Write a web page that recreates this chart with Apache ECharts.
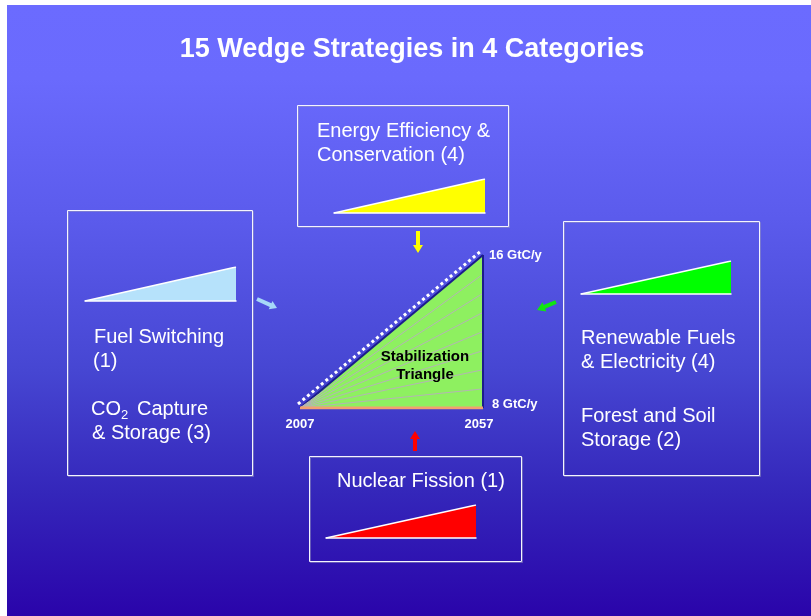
<!DOCTYPE html>
<html>
<head>
<meta charset="utf-8">
<title>15 Wedge Strategies in 4 Categories</title>
<script src="https://cdn.jsdelivr.net/npm/echarts@6/dist/echarts.min.js"></script>
<style>
  html, body { margin: 0; padding: 0; background: #ffffff; }
  #wrap { position: relative; width: 811px; height: 616px; overflow: hidden; }
  #slide {
    position: absolute; left: 7px; top: 5px; width: 804px; height: 611px;
    background: linear-gradient(to bottom, #6b6bff 0%, #6a6afd 12%, #5b5bec 35%, #4646d2 60%, #3426ba 80%, #2a04aa 100%);
  }
  #chart { position: absolute; left: 0; top: 0; width: 811px; height: 616px; }
</style>
</head>
<body>
<div id="wrap">
  <div id="slide"></div>
  <div id="chart"></div>
</div>
<script>
// Stabilization triangle: emissions held flat vs. the ramp-up path
const years = [2007, 2057];
const flatPath = [8, 8];
const rampPath = [8, 16];
// intermediate wedge boundaries at the 2057 end (GtC/y)
const wedgeTops = [9, 10, 11, 12, 13, 14, 15];
const emissionTicks = [8, 16];
// a single wedge grows from 0 to 1 GtC/y over the period
const wedgeRise = [0, 1];

// strategy categories
const categoryNames = ['Energy Efficiency & Conservation', 'Fuel Switching / CO2 Capture & Storage', 'Renewable Fuels & Electricity / Forest and Soil Storage', 'Nuclear Fission'];
const categoryCounts = [4, 4, 6, 1];
const wedgeColors = ['#ffff00', '#b6e2fb', '#00ff00', '#ff0000'];

const FONT = "'Liberation Sans', Arial, Helvetica, sans-serif";
const chart = echarts.init(document.getElementById('chart'), null, { renderer: 'canvas' });

// small wedge icon placement, one per category box
const wedgeBoxes = [
  { left: 334, top: 179, width: 151, height: 34 },
  { left: 85,  top: 267, width: 151, height: 34 },
  { left: 581, top: 261, width: 150, height: 33 },
  { left: 326, top: 505, width: 150, height: 33 }
];

const grids = [], xAxes = [], yAxes = [], series = [];

wedgeBoxes.forEach(function (b, i) {
  grids.push(Object.assign({ containLabel: false }, b));
  xAxes.push({
    type: 'value', gridIndex: i, min: years[0], max: years[1], z: 5,
    axisLine: { show: true, onZero: true, lineStyle: { color: '#ffffff', width: 1.5 } },
    axisTick: { show: false }, axisLabel: { show: false }, splitLine: { show: false }
  });
  yAxes.push({ type: 'value', gridIndex: i, min: 0, max: 1, show: false, splitLine: { show: false } });
  series.push({
    type: 'line', xAxisIndex: i, yAxisIndex: i, symbol: 'none', silent: true,
    data: years.map(function (y, k) { return [y, wedgeRise[k]]; }),
    lineStyle: { color: '#ffffff', width: 1.5 },
    areaStyle: { color: wedgeColors[i], opacity: 1, origin: 'start' }
  });
});

// main triangle grid
const M = grids.length;
grids.push({ left: 300, top: 255, width: 183, height: 153 });
xAxes.push({
  type: 'value', gridIndex: M, min: years[0], max: years[1],
  axisLine: { show: false }, axisTick: { show: false }, splitLine: { show: false },
  axisLabel: {
    show: true, customValues: years, showMinLabel: true, showMaxLabel: true, margin: 10,
    formatter: function (v) { return v === years[1] ? '{r|' + v + '}' : '{l|' + v + '}'; },
    rich: {
      l: { color: '#ffffff', fontFamily: FONT, fontWeight: 'bold', fontSize: 13 },
      r: { color: '#ffffff', fontFamily: FONT, fontWeight: 'bold', fontSize: 13, padding: [0, 8, 0, 0] }
    }
  }
});
yAxes.push({
  type: 'value', gridIndex: M, min: emissionTicks[0], max: emissionTicks[1], position: 'right',
  axisLine: { show: false }, axisTick: { show: false }, splitLine: { show: false },
  axisLabel: {
    show: true, customValues: emissionTicks, showMinLabel: true, showMaxLabel: true, margin: 6,
    formatter: function (v) { return v === emissionTicks[0] ? '{lo|' + v + ' GtC/y}' : '{hi|' + v + ' GtC/y}'; },
    rich: {
      lo: { color: '#ffffff', fontFamily: FONT, fontWeight: 'bold', fontSize: 13, padding: [0, 0, 8, 3] },
      hi: { color: '#ffffff', fontFamily: FONT, fontWeight: 'bold', fontSize: 13 }
    }
  }
});

// green triangle between the ramp and the flat path
series.push({
  type: 'line', xAxisIndex: M, yAxisIndex: M, symbol: 'none', silent: true, z: 2,
  data: years.map(function (y, k) { return [y, rampPath[k]]; }),
  lineStyle: { color: '#1c1c8c', width: 2 },
  areaStyle: { color: '#8ef060', opacity: 1, origin: 'start' }
});
// wedge divider lines fanning out from 2007
wedgeTops.forEach(function (t) {
  series.push({
    type: 'line', xAxisIndex: M, yAxisIndex: M, symbol: 'none', silent: true, z: 3,
    data: [[years[0], flatPath[0]], [years[1], t]],
    lineStyle: { color: '#b4b4b4', width: 1 }
  });
});
// right edge at 2057
series.push({
  type: 'line', xAxisIndex: M, yAxisIndex: M, symbol: 'none', silent: true, z: 4,
  data: [[years[1], flatPath[1]], [years[1], rampPath[1]]],
  lineStyle: { color: '#1c1c8c', width: 2 }
});
// flat emissions path
series.push({
  type: 'line', xAxisIndex: M, yAxisIndex: M, symbol: 'none', silent: true, z: 4,
  data: years.map(function (y, k) { return [y, flatPath[k]]; }),
  lineStyle: { color: '#f2a070', width: 3 }
});

// dotted ramp outline, nudged just above the hypotenuse
const D = grids.length;
grids.push({ left: 298, top: 251, width: 183, height: 153 });
xAxes.push({ type: 'value', gridIndex: D, min: years[0], max: years[1], show: false, splitLine: { show: false } });
yAxes.push({ type: 'value', gridIndex: D, min: emissionTicks[0], max: emissionTicks[1], show: false, splitLine: { show: false } });
series.push({
  type: 'line', xAxisIndex: D, yAxisIndex: D, symbol: 'none', silent: true, z: 5,
  data: years.map(function (y, k) { return [y, rampPath[k]]; }),
  lineStyle: { color: '#ffffff', width: 3, type: [3, 3], cap: 'butt' }
});

// arrow polygon from (x0,y0) to tip (x1,y1)
function arrow(x0, y0, x1, y1, sw, hw, hl) {
  const dx = x1 - x0, dy = y1 - y0, L = Math.hypot(dx, dy);
  const ux = dx / L, uy = dy / L, nx = -uy, ny = ux;
  const bx = x1 - ux * hl, by = y1 - uy * hl;
  return [
    [x0 + nx * sw / 2, y0 + ny * sw / 2],
    [bx + nx * sw / 2, by + ny * sw / 2],
    [bx + nx * hw / 2, by + ny * hw / 2],
    [x1, y1],
    [bx - nx * hw / 2, by - ny * hw / 2],
    [bx - nx * sw / 2, by - ny * sw / 2],
    [x0 - nx * sw / 2, y0 - ny * sw / 2]
  ];
}

function txt(x, y, s, size, opts) {
  opts = opts || {};
  return {
    type: 'text', x: x, y: y, z: 20, silent: true,
    style: {
      text: s, fill: opts.fill || '#ffffff',
      font: (opts.bold ? 'bold ' : '') + size + 'px ' + FONT,
      textAlign: opts.align || 'left', align: opts.align || 'left',
      textVerticalAlign: 'middle', verticalAlign: 'middle',
      lineHeight: opts.lineHeight
    }
  };
}

function box(x, y, w, h) {
  return [
    { type: 'rect', z: 9, silent: true, shape: { x: x + 1.5, y: y + 1.5, width: w, height: h },
      style: { fill: null, stroke: 'rgba(150,150,190,0.55)', lineWidth: 1 } },
    { type: 'rect', z: 10, silent: true, shape: { x: x + 0.5, y: y + 0.5, width: w, height: h },
      style: { fill: null, stroke: '#f4f4ff', lineWidth: 1 } }
  ];
}

const graphics = [].concat(
  box(297, 105, 211, 121),
  box(67, 210, 185, 265),
  box(563, 221, 196, 254),
  box(309, 456, 212, 105),
  [
    txt(412, 50, '15 Wedge Strategies in 4 Categories', 27, { bold: true, align: 'center' }),

    txt(317, 131, 'Energy Efficiency &', 20),
    txt(317, 155, 'Conservation (4)', 20),

    txt(94, 337, 'Fuel Switching', 20),
    txt(93, 361, '(1)', 20),
    txt(91, 409, 'CO', 20),
    txt(121, 415, '2', 13),
    txt(137, 409, 'Capture', 20),
    txt(92, 433, '& Storage (3)', 20),

    txt(581, 338, 'Renewable Fuels', 20),
    txt(581, 362, '& Electricity (4)', 20),
    txt(581, 416, 'Forest and Soil', 20),
    txt(581, 440, 'Storage (2)', 20),

    txt(337, 481, 'Nuclear Fission (1)', 20),

    txt(425, 366, 'Stabilization\nTriangle', 15, { bold: true, align: 'center', fill: '#000000', lineHeight: 18 }),

    { type: 'polygon', z: 15, silent: true, shape: { points: arrow(418, 231, 418, 253, 4, 10, 8) }, style: { fill: '#ffff00' } },
    { type: 'polygon', z: 15, silent: true, shape: { points: arrow(415, 451, 415, 431, 4, 10, 8) }, style: { fill: '#ff0000' } },
    { type: 'polygon', z: 15, silent: true, shape: { points: arrow(257, 299, 277, 308, 4, 9, 7) }, style: { fill: '#a6d8f8' } },
    { type: 'polygon', z: 15, silent: true, shape: { points: arrow(556, 302, 537, 310, 4, 10, 8) }, style: { fill: '#10e610' } }
  ]
);

chart.setOption({
  backgroundColor: 'transparent',
  animation: false,
  grid: grids,
  xAxis: xAxes,
  yAxis: yAxes,
  series: series,
  graphic: { elements: graphics }
});
</script>
</body>
</html>
